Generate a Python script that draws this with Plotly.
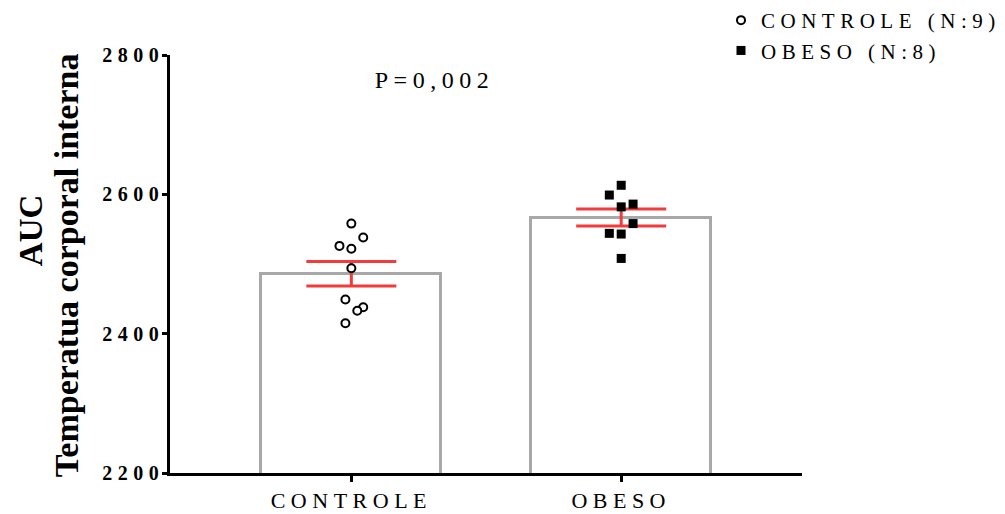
import numpy as np
import plotly.graph_objects as go

# Groups and individual AUC values (body core temperature)
groups = ["CONTROLE", "OBESO"]
legend_names = ["CONTROLE (N:9)", "OBESO (N:8)"]
controle_auc = [2558, 2538, 2526, 2522, 2494, 2449, 2438, 2433, 2415]
obeso_auc = [2613, 2599, 2582, 2586, 2558, 2544, 2543, 2508]
# horizontal spread of the dots around each group, in category units
controle_jitter = [0, 0.044, -0.044, 0, 0, -0.022, 0.044, 0.022, -0.022]
obeso_jitter = [0, -0.044, 0, 0.044, 0.044, -0.044, 0, 0]
y_ticks = [2200, 2400, 2600, 2800]
p_label = "P=0,002"
y_title = ["AUC", "Temperatua corporal interna"]

samples = [np.array(controle_auc, float), np.array(obeso_auc, float)]
means = [float(s.mean()) for s in samples]
sems = [float(s.std(ddof=1) / np.sqrt(len(s))) for s in samples]
pos = [0, 1]

SERIF = "Liberation Serif, Times New Roman, serif"
RED = "#F23B3B"
GREY = "#A8A8A8"

fig = go.Figure()

# mean bars
fig.add_trace(go.Bar(
    x=pos, y=means, width=0.667,
    marker=dict(color="white", line=dict(color=GREY, width=3)),
    showlegend=False, hoverinfo="skip",
))

# mean +/- SEM
fig.add_trace(go.Scatter(
    x=pos, y=means, mode="markers",
    marker=dict(size=1, color="rgba(0,0,0,0)"),
    error_y=dict(type="data", array=sems, color=RED, thickness=3, width=45),
    showlegend=False, hoverinfo="skip",
))

# individual animals
fig.add_trace(go.Scatter(
    x=[pos[0] + j for j in controle_jitter], y=controle_auc,
    mode="markers", name=legend_names[0],
    marker=dict(symbol="circle", size=8, color="white",
                line=dict(color="black", width=2)),
))
fig.add_trace(go.Scatter(
    x=[pos[1] + j for j in obeso_jitter], y=obeso_auc,
    mode="markers", name=legend_names[1],
    marker=dict(symbol="square", size=9, color="black",
                line=dict(width=0)),
))

fig.update_layout(
    width=1005, height=514,
    margin=dict(l=170, r=203, t=55, b=41, autoexpand=False),
    paper_bgcolor="white", plot_bgcolor="white",
    font=dict(family=SERIF, color="black"),
    bargap=0,
    legend=dict(
        xref="container", yref="container",
        x=721 / 1005, y=1, xanchor="left", yanchor="top",
        font=dict(family=SERIF, size=21, color="black"),
        bgcolor="rgba(0,0,0,0)", tracegroupgap=0,
    ),
    xaxis=dict(
        range=[-0.672, 1.67], tickmode="array", tickvals=pos, ticktext=groups,
        showline=True, linecolor="black", linewidth=2.5,
        ticks="outside", ticklen=6, tickwidth=2.5, tickcolor="black",
        tickfont=dict(family=SERIF, size=22, color="black"),
        showgrid=False, zeroline=False, fixedrange=True, automargin=False,
    ),
    yaxis=dict(
        range=[2200, 2800], tickmode="array", tickvals=y_ticks,
        showline=True, linecolor="black", linewidth=2.5,
        ticks="outside", ticklen=5, tickwidth=2.5, tickcolor="black",
        ticklabelstandoff=-6,
        tickfont=dict(family=SERIF, size=20, color="black", weight="bold"),
        showgrid=False, zeroline=False, fixedrange=True, automargin=False,
    ),
    annotations=[
        dict(text=p_label, xref="paper", yref="paper", x=0.4193, y=0.940,
             xanchor="center", yanchor="middle", showarrow=False,
             font=dict(family=SERIF, size=24, color="black")),
        dict(text=y_title[0], xref="paper", yref="paper", x=-0.2199, y=0.581,
             xanchor="center", yanchor="middle", showarrow=False, textangle=-90,
             font=dict(family=SERIF, size=33, color="black", weight="bold")),
        dict(text=y_title[1], xref="paper", yref="paper", x=-0.1646, y=0.497,
             xanchor="center", yanchor="middle", showarrow=False, textangle=-90,
             font=dict(family=SERIF, size=34, color="black", weight="bold")),
    ],
)

# wide letter spacing for ticks, legend and the P value (the axis title
# stays tight); the legend box is measured without the spacing, so its
# clip is lifted to keep the full entries visible
spacing_css = (
    "var s=document.createElement('style');"
    "s.textContent='.main-svg text{letter-spacing:5.5px;}"
    " .main-svg g.annotation:not([data-index=\"0\"]) text{letter-spacing:0;}"
    " .main-svg .legend .scrollbox{clip-path:none !important;}';"
    "document.head.appendChild(s);"
)
fig.write_html("out.html", post_script=spacing_css)
